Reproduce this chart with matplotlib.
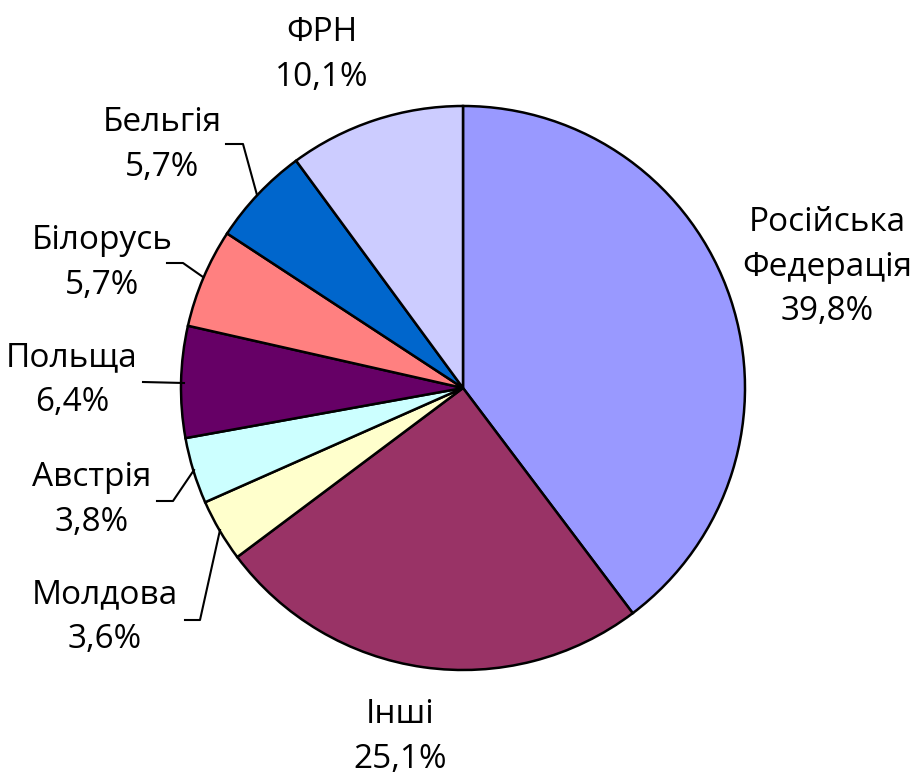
import matplotlib.pyplot as plt

# data
countries = ['Російська\nФедерація', 'Інші', 'Молдова', 'Австрія', 'Польща',
             'Білорусь', 'Бельгія', 'ФРН']
shares = [39.8, 25.1, 3.6, 3.8, 6.4, 5.7, 5.7, 10.1]
colors = ['#9999FF', '#993366', '#FFFFCC', '#CCFFFF', '#660066',
          '#FF8080', '#0066CC', '#CCCCFF']

# label centres (pixels) and leader lines
label_pos = [(827, 267), (400, 737), (105, 617), (92, 500), (72, 380),
             (102, 263), (162, 145), (322, 55)]
leaders = {
    2: [(185, 620), (200, 620), (220, 530)],
    3: [(157, 501), (173, 501), (194, 470)],
    4: [(143, 382), (184, 383)],
    5: [(167, 263), (183, 263), (203, 277)],
    6: [(226, 144), (243, 144), (257, 195)],
}

plt.rcParams['font.family'] = ['Open Sans', 'DejaVu Sans']

fig = plt.figure(figsize=(9.16, 7.74), dpi=100)
ax = fig.add_axes([0, 0, 1, 1])

# y axis runs downward (pixel coords), so start at -90 and go "counterclock"
ax.pie(shares, colors=colors, startangle=-90, counterclock=True,
       center=(463, 388), radius=282, frame=True,
       wedgeprops=dict(edgecolor='black', linewidth=1.8))
ax.set_xlim(0, 916)
ax.set_ylim(774, 0)
ax.set_aspect('equal')
ax.axis('off')

for i, (name, val) in enumerate(zip(countries, shares)):
    x, y = label_pos[i]
    txt = name + '\n' + f'{val:.1f}'.replace('.', ',') + '%'
    ax.text(x, y, txt, ha='center', va='center', fontsize=24,
            linespacing=1.45)

for pts in leaders.values():
    xs, ys = zip(*pts)
    ax.plot(xs, ys, color='black', lw=1.5)

fig.savefig('out.png', dpi=100)
